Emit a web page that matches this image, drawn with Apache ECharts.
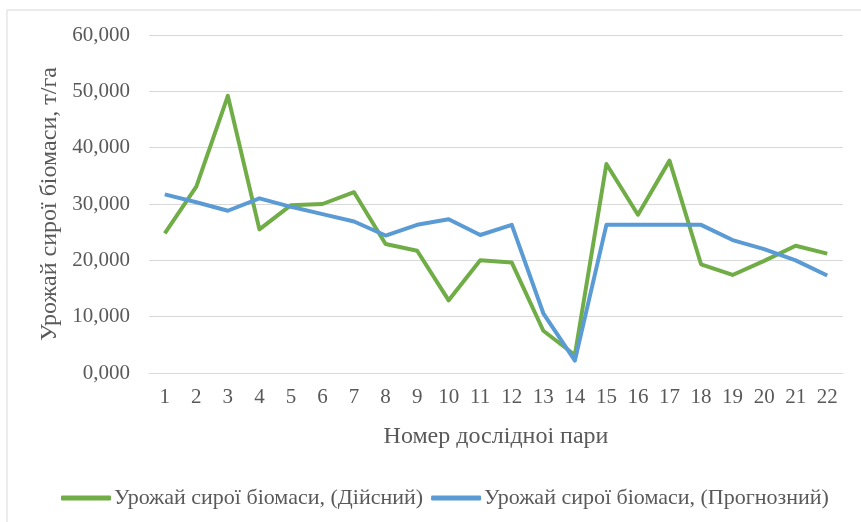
<!DOCTYPE html>
<html>
<head>
<meta charset="utf-8">
<script src="https://cdn.jsdelivr.net/npm/echarts@6/dist/echarts.min.js"></script>
<style>
  html, body { margin: 0; padding: 0; background: #fff; }
  #chart { width: 861px; height: 522px; }
</style>
</head>
<body>
<div id="chart"></div>
<script>
// номери дослідних пар
const categories = ['1', '2', '3', '4', '5', '6', '7', '8', '9', '10', '11',
  '12', '13', '14', '15', '16', '17', '18', '19', '20', '21', '22'];

// урожай сирої біомаси, т/га (дійсний)
const actual = [24.8, 33.1, 49.2, 25.5, 29.8, 30.0, 32.1, 22.9, 21.7, 12.9, 20.0,
  19.6, 7.5, 3.2, 37.1, 28.1, 37.7, 19.3, 17.4, 19.9, 22.6, 21.2];

// урожай сирої біомаси, т/га (прогнозний)
const forecast = [31.7, 30.3, 28.8, 31.0, 29.5, 28.2, 26.9, 24.4, 26.3, 27.3, 24.5,
  26.3, 10.6, 2.2, 26.3, 26.3, 26.3, 26.3, 23.6, 22.0, 20.0, 17.3];

const seriesNames = ['Урожай сирої біомаси, (Дійсний)', 'Урожай сирої біомаси, (Прогнозний)'];

const FONT = '"Liberation Serif", "Times New Roman", serif';
const TEXT = '#595959';

const chart = echarts.init(document.getElementById('chart'));

chart.setOption({
  animation: false,
  textStyle: { fontFamily: FONT },
  graphic: [{
    type: 'rect',
    shape: { x: 7, y: 10, width: 870, height: 530 },
    style: { fill: 'none', stroke: '#D9D9D9', lineWidth: 1 }
  }],
  grid: { left: 149, right: 18, top: 35, bottom: 149 },
  legend: {
    left: 56,
    top: 482,
    itemWidth: 50,
    itemHeight: 5,
    itemGap: 8,
    icon: 'roundRect',
    textStyle: { fontFamily: FONT, fontSize: 22, color: TEXT, padding: [0, 0, 0, -2] },
    data: seriesNames
  },
  xAxis: {
    type: 'category',
    data: categories,
    boundaryGap: true,
    axisLine: { show: true, lineStyle: { color: '#D9D9D9', width: 1 } },
    axisTick: { show: false },
    axisLabel: { fontFamily: FONT, fontSize: 21, color: TEXT, margin: 14, interval: 0 },
    name: 'Номер дослідноі пари',
    nameLocation: 'middle',
    nameGap: 52,
    nameTextStyle: { fontFamily: FONT, fontSize: 24, color: TEXT }
  },
  yAxis: {
    type: 'value',
    min: 0,
    max: 60,
    interval: 10,
    axisLine: { show: false },
    axisTick: { show: false },
    splitLine: { lineStyle: { color: '#D9D9D9', width: 1 } },
    axisLabel: {
      fontFamily: FONT, fontSize: 21, color: TEXT, margin: 19,
      formatter: v => v.toFixed(3).replace('.', ',')
    },
    name: 'Урожай сирої біомаси, т/га',
    nameLocation: 'middle',
    nameGap: 87,
    nameTextStyle: { fontFamily: FONT, fontSize: 24, color: TEXT }
  },
  series: [
    {
      name: seriesNames[0],
      type: 'line',
      data: actual,
      symbol: 'none',
      lineStyle: { color: '#70AD47', width: 4, join: 'round' },
      itemStyle: { color: '#70AD47' }
    },
    {
      name: seriesNames[1],
      type: 'line',
      data: forecast,
      symbol: 'none',
      lineStyle: { color: '#5B9BD5', width: 4, join: 'round' },
      itemStyle: { color: '#5B9BD5' }
    }
  ]
});
</script>
</body>
</html>
